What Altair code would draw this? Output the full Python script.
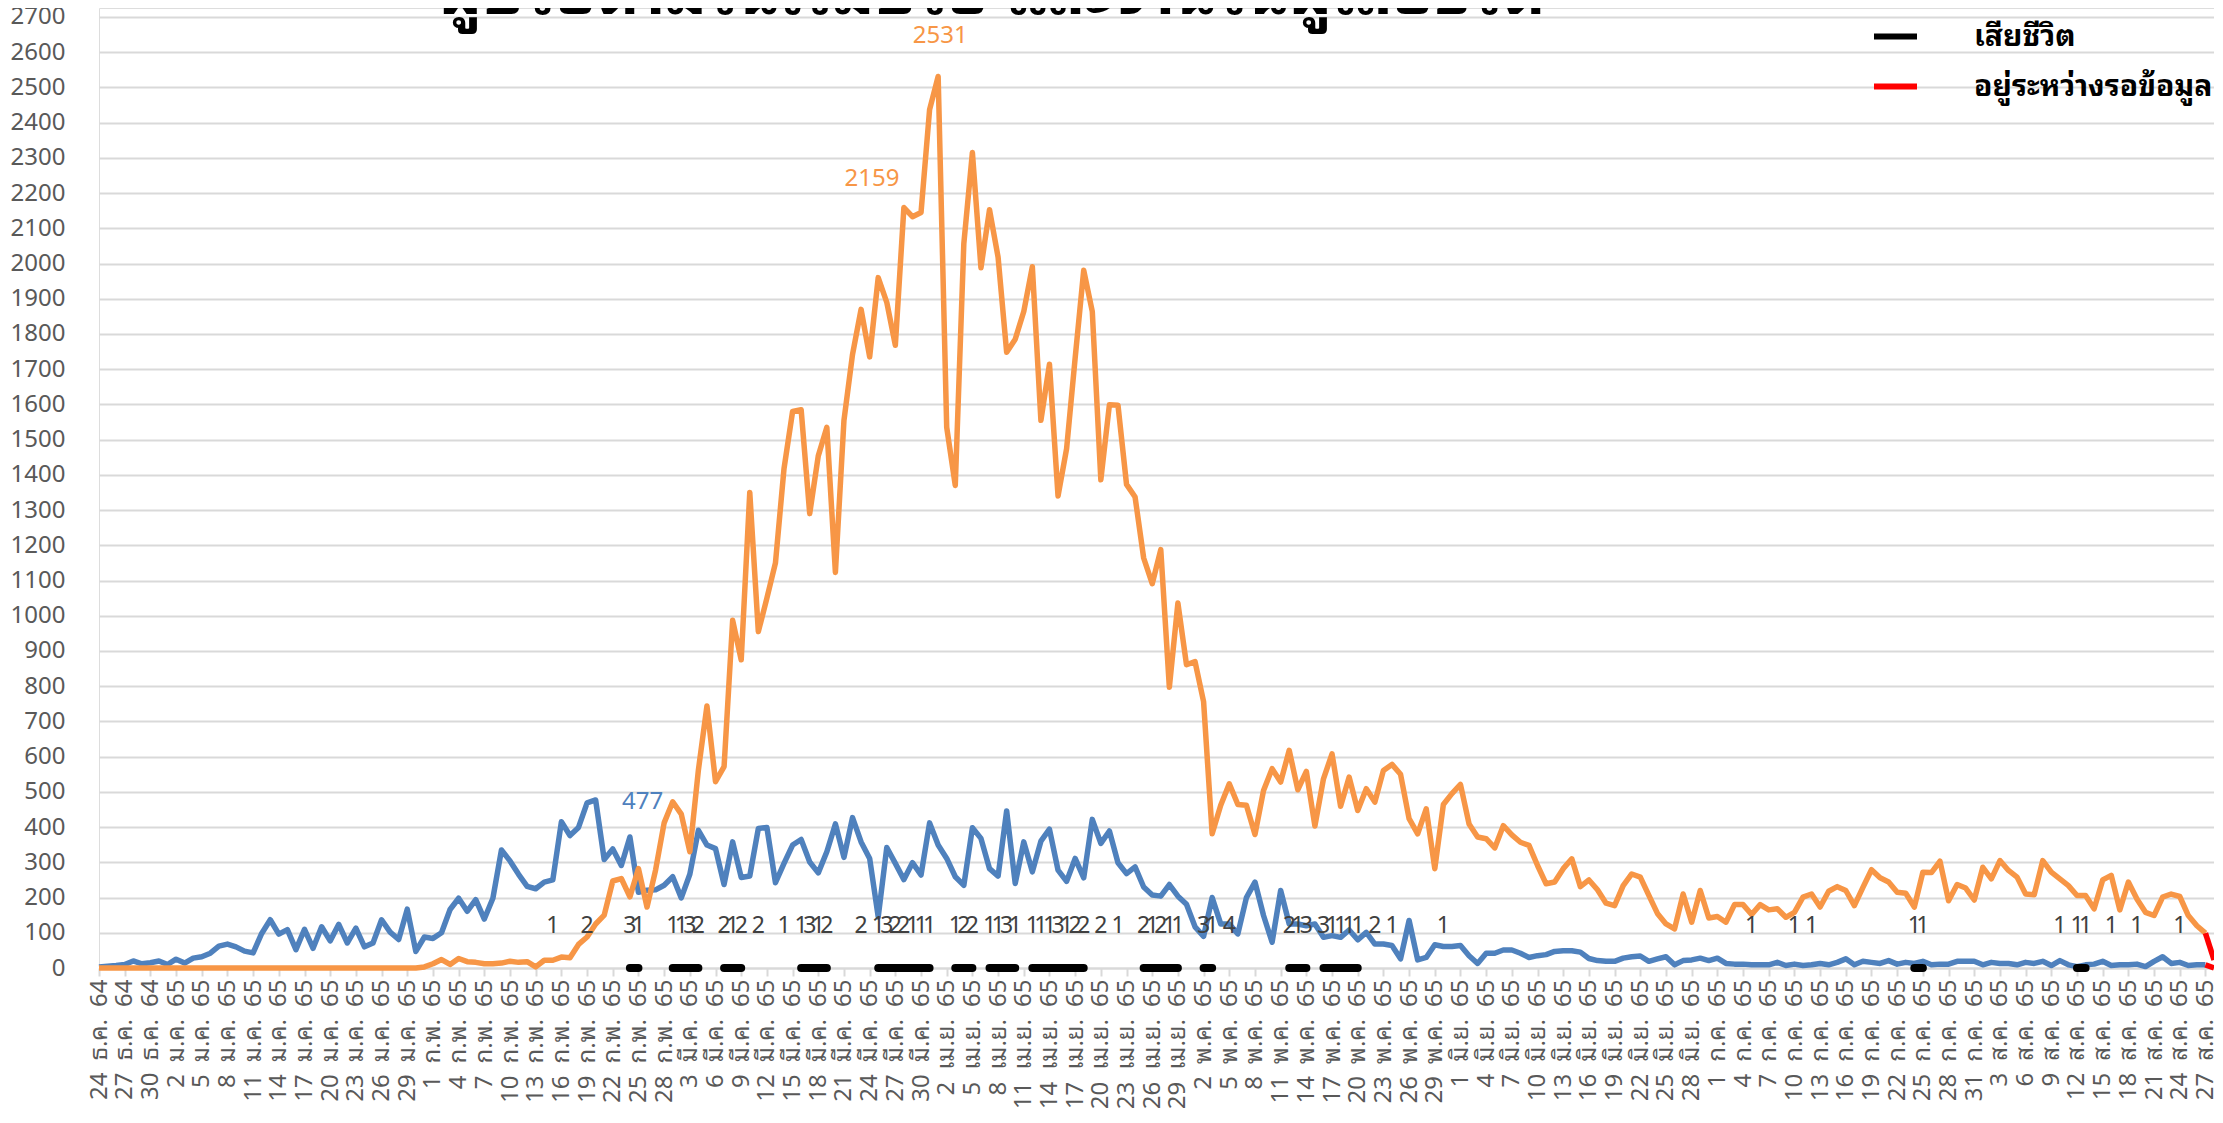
import json
import datetime as dt
import altair as alt
import pandas as pd

# ---------------- data ----------------
start_date = dt.date(2021, 12, 24)
thai_months = ["ม.ค.", "ก.พ.", "มี.ค.", "เม.ย.", "พ.ค.", "มิ.ย.",
               "ก.ค.", "ส.ค.", "ก.ย.", "ต.ค.", "พ.ย.", "ธ.ค."]

blue_name = "ผู้ป่วยยืนยัน"
orange_name = "ผู้ป่วยเข้าข่าย (ATK)"
death_name = "เสียชีวิต"
pending_name = "อยู่ระหว่างรอข้อมูล"

# day index 0 = 24 ธ.ค. 64
blue_values = [
    3, 5, 7, 10, 20, 12, 15, 20, 10, 25,
    14, 28, 32, 42, 62, 68, 60, 48, 43, 98,
    137, 96, 109, 52, 110, 56, 117, 77, 124, 71,
    113, 60, 71, 137, 102, 81, 167, 47, 88, 84,
    100, 166, 198, 161, 194, 139, 198, 335, 304, 266,
    232, 225, 244, 250, 415, 376, 399, 469, 477, 308,
    338, 291, 372, 215, 221, 222, 235, 259, 199, 266,
    391, 349, 339, 237, 358, 257, 261, 396, 399, 242,
    297, 349, 365, 301, 270, 330, 409, 314, 427, 358,
    311, 145, 342, 297, 251, 299, 264, 412, 349, 311,
    259, 235, 398, 368, 282, 261, 446, 240, 358, 273,
    360, 394, 278, 246, 311, 256, 422, 354, 389, 299,
    268, 287, 230, 207, 204, 237, 204, 181, 117, 90,
    200, 125, 125, 97, 200, 244, 149, 73, 220, 125,
    125, 120, 125, 87, 92, 87, 108, 80, 101, 68,
    68, 64, 26, 135, 23, 30, 66, 61, 61, 64,
    35, 13, 42, 42, 51, 51, 42, 30, 35, 38,
    47, 49, 49, 45, 27, 21, 19, 19, 28, 32,
    34, 19, 26, 32, 9, 21, 23, 28, 21, 28,
    13, 11, 11, 9, 9, 9, 16, 7, 11, 7,
    9, 13, 9, 16, 26, 9, 19, 16, 13, 21,
    11, 16, 13, 19, 9, 11, 11, 19, 19, 19,
    9, 16, 13, 13, 9, 16, 13, 19, 7, 21,
    9, 4, 9, 11, 19, 7, 9, 9, 11, 4,
    19, 32, 13, 16, 7, 9, 9,
]

orange_values = [
    0, 0, 0, 0, 0, 0, 0, 0, 0, 0,
    0, 0, 0, 0, 0, 0, 0, 0, 0, 0,
    0, 0, 0, 0, 0, 0, 0, 0, 0, 0,
    0, 0, 0, 0, 0, 0, 0, 0, 3, 12,
    24, 10, 27, 18, 16, 12, 12, 14, 19, 16,
    18, 3, 22, 22, 31, 29, 67, 88, 125, 150,
    247, 254, 202, 282, 173, 278, 412, 472, 437, 330,
    562, 744, 529, 572, 987, 875, 1350, 955, 1050, 1150,
    1418, 1580, 1585, 1290, 1454, 1535, 1123, 1555, 1742, 1870,
    1735, 1960, 1890, 1768, 2159, 2133, 2145, 2437, 2531, 1535,
    1370, 2057, 2315, 1988, 2153, 2018, 1748, 1785, 1864, 1991,
    1555, 1714, 1340, 1474, 1732, 1981, 1864, 1386, 1599, 1598,
    1373, 1337, 1164, 1091, 1188, 797, 1036, 861, 870, 756,
    381, 462, 523, 464, 462, 379, 504, 566, 528, 618,
    506, 558, 403, 537, 608, 459, 542, 447, 509, 471,
    561, 578, 550, 424, 381, 452, 282, 464, 495, 521,
    409, 372, 367, 341, 404, 378, 357, 348, 291, 239,
    244, 282, 310, 231, 250, 222, 184, 177, 234, 267,
    258, 206, 155, 125, 111, 210, 130, 220, 142, 146,
    130, 180, 180, 152, 180, 165, 168, 144, 158, 201,
    210, 173, 218, 231, 220, 177, 229, 279, 256, 244,
    215, 212, 173, 272, 271, 303, 191, 237, 227, 193,
    286, 253, 305, 277, 258, 210, 208, 305, 272, 253,
    234, 206, 206, 168, 250, 263, 165, 244, 196, 158,
    149, 201, 210, 203, 149, 120, 99,
]

# pending (red) segments: last reported day -> next day
pending_days = [246, 247, 246, 247]
pending_values = [99, 23, 9, 0]
pending_group = ["o", "o", "b", "b"]

# deaths per day (day index, count)
death_days = [53, 57, 62, 63, 67, 68, 69, 70, 73, 74, 75, 77, 80, 82, 83, 84, 85,
              89, 91, 92, 93, 94, 95, 96, 97, 100, 101, 102, 104, 105, 106, 107,
              109, 110, 111, 112, 113, 114, 115, 117, 119, 122, 123, 124, 125, 126,
              129, 130, 132, 139, 140, 141, 143, 144, 145, 146, 147, 149, 151, 157,
              193, 198, 200, 212, 213, 229, 231, 232, 235, 238, 243]
death_counts = [1, 2, 3, 1, 1, 1, 3, 2, 2, 1, 2, 2, 1, 1, 3, 1, 2,
                2, 1, 3, 2, 2, 1, 1, 1, 1, 2, 2, 1, 1, 3, 1,
                1, 1, 1, 3, 1, 2, 2, 2, 1, 2, 1, 2, 1, 1,
                3, 1, 4, 2, 1, 3, 3, 1, 1, 1, 1, 2, 1, 1,
                1, 1, 1, 1, 1, 1, 1, 1, 1, 1, 1]

title_text = "ผู้ป่วยตามวันเริ่มป่วย และจำนวนผู้เสียชีวิต"

# ---------------- tables ----------------
n_days = len(blue_values)
tick_days = list(range(0, n_days, 3))
GAP = "\u2002"
tick_labels = []
for d in tick_days:
    day = start_date + dt.timedelta(days=d)
    tick_labels.append(f"{day.day}{GAP}{thai_months[day.month - 1]}{GAP}{str(day.year + 543)[-2:]}")

blue_df = pd.DataFrame({"d": range(n_days), "v": blue_values, "s": blue_name})
orange_df = pd.DataFrame({"d": range(len(orange_values)), "v": orange_values, "s": orange_name})
pending_df = pd.DataFrame({"d": pending_days, "v": pending_values, "g": pending_group, "s": pending_name})

runs = []
run_id = 0
for i, d in enumerate(death_days):
    if i > 0 and d != death_days[i - 1] + 1:
        run_id += 1
    runs.append(run_id)
death_df = pd.DataFrame({"d": death_days, "n": death_counts, "run": runs, "s": death_name})
run_sizes = death_df.groupby("run")["d"].transform("count")
death_line_df = death_df[run_sizes > 1].assign(v=0)
death_text_df = death_df.assign(v=100)

blue_peak = pd.DataFrame({"d": [58], "v": [477]})
orange_peak1 = pd.DataFrame({"d": [98], "v": [2531]})
orange_peak2 = pd.DataFrame({"d": [94], "v": [2159]})

# ---------------- encodings ----------------
FONT = "Noto Sans Thai Looped, Noto Sans Thai, Noto Sans, sans-serif"
W, H = 2115, 960
YMAX = 2725.5

label_arr = json.dumps(tick_labels, ensure_ascii=False)

x_enc = alt.X(
    "d:Q",
    scale=alt.Scale(domain=[0, n_days], nice=False, zero=False),
    axis=alt.Axis(
        values=tick_days, labelExpr=f"{label_arr}[round(datum.value / 3)]",
        labelAngle=270, labelFontSize=24, labelColor="#595959", labelFont=FONT,
        labelPadding=3, ticks=True, tickSize=8, tickColor="#d9d9d9", tickWidth=2,
        domain=True, domainColor="#d9d9d9", domainWidth=2, grid=False, title=None,
        labelOverlap=False, labelFlush=False, labelBound=False,
    ),
)
y_enc = alt.Y(
    "v:Q",
    scale=alt.Scale(domain=[0, YMAX], nice=False),
    axis=alt.Axis(
        values=list(range(0, 2800, 100)), format="d", labelFontSize=24,
        labelColor="#595959", labelFont=FONT, labelPadding=34, ticks=False,
        domain=False, grid=True, gridColor="#d9d9d9", gridWidth=2, title=None,
        labelOverlap=False, labelBound=False, labelFlush=False,
    ),
)

color_enc = alt.Color(
    "s:N",
    scale=alt.Scale(domain=[blue_name, orange_name, death_name, pending_name],
                    range=["#4f81bd", "#f79646", "#000000", "#ff0000"]),
    legend=alt.Legend(
        orient="none", legendX=1772, legendY=-96, title=None, symbolType="stroke",
        symbolStrokeWidth=6, symbolSize=1849, labelFontSize=30, labelFontWeight="bold",
        labelColor="#000000", labelFont=FONT, labelOffset=54, rowPadding=10,
        labelLimit=700,
    ),
)

blue_line = alt.Chart(blue_df).mark_line(strokeWidth=5.5, strokeJoin="round").encode(
    x=x_enc, y=y_enc, color=color_enc)
orange_line = alt.Chart(orange_df).mark_line(strokeWidth=5.5, strokeJoin="round").encode(
    x=x_enc, y=y_enc, color=color_enc)
death_line = alt.Chart(death_line_df).mark_line(strokeWidth=8, strokeCap="round").encode(
    x=x_enc, y=y_enc, detail="run:N", color=color_enc)
pending_line = alt.Chart(pending_df).mark_line(strokeWidth=5.5).encode(
    x=x_enc, y=y_enc, detail="g:N", color=color_enc)

death_text = alt.Chart(death_text_df).mark_text(
    fontSize=23, color="#404040", baseline="alphabetic", font=FONT
).encode(x=x_enc, y=y_enc, text="n:Q")

blue_peak_text = alt.Chart(blue_peak).mark_text(
    fontSize=24, color="#4f81bd", baseline="middle", dx=47, dy=2, font=FONT
).encode(x=x_enc, y=y_enc, text="v:Q")
orange_peak_text1 = alt.Chart(orange_peak1).mark_text(
    fontSize=24, color="#f79646", baseline="middle", dx=2, dy=-41, font=FONT
).encode(x=x_enc, y=y_enc, text="v:Q")
orange_peak_text2 = alt.Chart(orange_peak2).mark_text(
    fontSize=24, color="#f79646", baseline="middle", dx=-32, dy=-29, font=FONT
).encode(x=x_enc, y=y_enc, text="v:Q")

title_mark = alt.Chart(pd.DataFrame({"t": [title_text]})).mark_text(
    fontSize=63, fontWeight="bold", color="#000000", baseline="alphabetic",
    align="center", font=FONT
).encode(x=alt.value(893), y=alt.value(6), text="t:N")

chart = alt.layer(
    blue_line, orange_line, death_line, pending_line,
    death_text, blue_peak_text, orange_peak_text1, orange_peak_text2, title_mark,
).properties(
    width=W, height=H,
    autosize=alt.AutoSizeParams(type="none"),
    padding={"left": 91, "top": 0, "right": 0, "bottom": 146},
).configure_view(stroke=None).configure_axis(
    labelOverlap=False
).configure(background="#ffffff")

chart.save("out.html", embed_options={"renderer": "svg", "actions": False})
